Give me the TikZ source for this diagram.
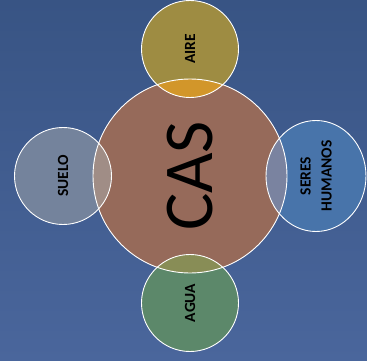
\documentclass[tikz,border=0pt]{standalone}
\usepackage{fontspec}
\setmainfont{Carlito}
\usepackage{tikz}

\definecolor{bgtop}{RGB}{56,84,132}
\definecolor{bgbot}{RGB}{74,102,156}
\definecolor{cascol}{RGB}{150,106,90}
\definecolor{airecol}{RGB}{158,140,66}
\definecolor{aguacol}{RGB}{92,136,106}
\definecolor{suelocol}{RGB}{116,131,156}
\definecolor{serescol}{RGB}{72,116,170}
\definecolor{airecas}{RGB}{210,150,42}
\definecolor{aguacas}{RGB}{136,141,86}
\definecolor{suelocas}{RGB}{160,141,134}
\definecolor{serescas}{RGB}{122,131,160}

\begin{document}
\begin{tikzpicture}[x=1pt, y=-1pt, cnode/.style={circle, inner sep=0pt, minimum size=194pt}, snode/.style={circle, inner sep=0pt, minimum size=97pt}, lbl/.style={rotate=90, align=center, font=\bfseries\fontsize{15.5}{21}\selectfont}]
    \shade[top color=bgtop, bottom color=bgbot] (0,0) rectangle (367,361);
    \useasboundingbox (0,0) rectangle (367,361);

    \node[cnode, fill=cascol] (cas) at (190,176) {};
    \node[snode, fill=airecol] (aire) at (190,49) {};
    \node[snode, fill=aguacol] (agua) at (190,303) {};
    \node[snode, fill=suelocol] (suelo) at (63,176) {};
    \coordinate (seres) at (316,176);
    \fill[serescol] (seres) ellipse (50 and 55.5);

   \begin{scope}
    \clip (aire.center) circle (48.5);
    \fill[airecas] (cas.center) circle (97);
   \end{scope}
   \begin{scope}
    \clip (agua.center) circle (48.5);
    \fill[aguacas] (cas.center) circle (97);
   \end{scope}
   \begin{scope}
    \clip (suelo.center) circle (48.5);
    \fill[suelocas] (cas.center) circle (97);
   \end{scope}
   \begin{scope}
    \clip (seres) ellipse (50 and 55.5);
    \fill[serescas] (cas.center) circle (97);
   \end{scope}

   \begin{scope}[white, line width=0.9pt]
    \draw (cas.center) circle (97);
    \draw (aire.center) circle (48.5);
    \draw (agua.center) circle (48.5);
    \draw (suelo.center) circle (48.5);
    \draw (seres) ellipse (50 and 55.5);
   \end{scope}

    \node[rotate=90, font=\fontsize{70}{72}\selectfont] (castext) at (cas.center) {CAS};
    \node[lbl] (airetext) at (aire.center) {AIRE};
    \node[lbl] (aguatext) at (agua.center) {AGUA};
    \node[lbl] (suelotext) at (suelo.center) {SUELO};
    \node[lbl] (serestext) at (seres) {SERES\\HUMANOS};
\end{tikzpicture}
\end{document}
